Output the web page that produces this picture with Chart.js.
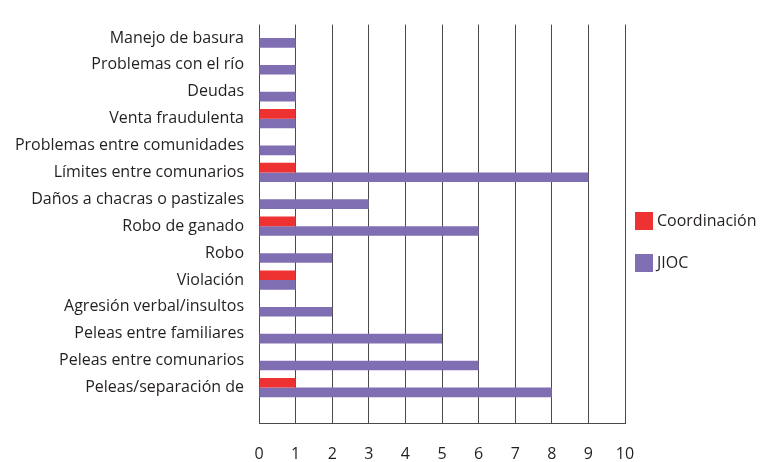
<!DOCTYPE html>
<html>
<head>
<meta charset="utf-8">
<script src="https://cdn.jsdelivr.net/npm/chart.js@4"></script>
<style>
  html, body { margin: 0; padding: 0; background: #fff; }
  #wrap { width: 763px; height: 462px; }
</style>
</head>
<body>
<div id="wrap"><canvas id="mainChart" width="763" height="462"></canvas></div>
<script>
// datos
const categories = [
    'Manejo de basura',
    'Problemas con el río',
    'Deudas',
    'Venta fraudulenta',
    'Problemas entre comunidades',
    'Límites entre comunarios',
    'Daños a chacras o pastizales',
    'Robo de ganado',
    'Robo',
    'Violación',
    'Agresión verbal/insultos',
    'Peleas entre familiares',
    'Peleas entre comunarios',
    'Peleas/separación de'
];
const coordinacion = [0, 0, 0, 1, 0, 1, 0, 1, 0, 1, 0, 0, 0, 1];
const jioc = [1, 1, 1, 1, 1, 9, 3, 6, 2, 1, 2, 5, 6, 8];
const xTicks = [0, 1, 2, 3, 4, 5, 6, 7, 8, 9, 10];

const textColor = '#231f20';
const gridColor = '#4a4a4a';
const tickLen = 22;

Chart.defaults.font.family = "'Open Sans', sans-serif";
Chart.defaults.font.size = 16;
Chart.defaults.color = textColor;

// linea inferior + leyenda a la derecha
const extras = {
    id: 'extras',
    afterDraw(chart) {
        const { ctx, chartArea, scales: { x } } = chart;
        ctx.save();
        ctx.strokeStyle = gridColor;
        ctx.lineWidth = 1;
        const yb = Math.round(chartArea.bottom + tickLen) + 0.5;
        ctx.beginPath();
        ctx.moveTo(Math.round(x.getPixelForValue(xTicks[0])), yb);
        ctx.lineTo(Math.round(x.getPixelForValue(xTicks[xTicks.length - 1])) + 1, yb);
        ctx.stroke();

        ctx.font = "16px 'Open Sans', sans-serif";
        ctx.textBaseline = 'middle';
        chart.data.datasets.forEach((ds, i) => {
            const top = 212 + i * 42;
            ctx.fillStyle = ds.backgroundColor;
            ctx.fillRect(635, top, 18, 18);
            ctx.fillStyle = textColor;
            ctx.fillText(ds.label, 657, top + 9);
        });
        ctx.restore();
    }
};

new Chart(document.getElementById('mainChart'), {
    type: 'bar',
    data: {
        labels: categories,
        datasets: [
            {
                label: 'Coordinación',
                data: coordinacion,
                backgroundColor: '#ee3232',
                borderWidth: 0,
                barPercentage: 1,
                categoryPercentage: 0.716
            },
            {
                label: 'JIOC',
                data: jioc,
                backgroundColor: '#806eb2',
                borderWidth: 0,
                barPercentage: 1,
                categoryPercentage: 0.716
            }
        ]
    },
    plugins: [extras],
    options: {
        indexAxis: 'y',
        responsive: false,
        animation: false,
        layout: { padding: { top: 10, right: 138, bottom: 0, left: 0 } },
        plugins: {
            legend: { display: false },
            tooltip: { enabled: false }
        },
        scales: {
            x: {
                min: 0,
                max: 10,
                afterFit: (scale) => { scale.height = 61; },
                afterBuildTicks: (scale) => { scale.ticks = xTicks.map(v => ({ value: v })); },
                border: { display: false },
                grid: { color: gridColor, lineWidth: 1, drawTicks: true, tickLength: tickLen },
                ticks: { padding: 22, maxRotation: 0 }
            },
            y: {
                afterFit: (scale) => { scale.width = 259; },
                border: { display: false },
                grid: { display: false, drawTicks: false },
                ticks: { padding: 15, autoSkip: false }
            }
        }
    }
});
</script>
</body>
</html>
